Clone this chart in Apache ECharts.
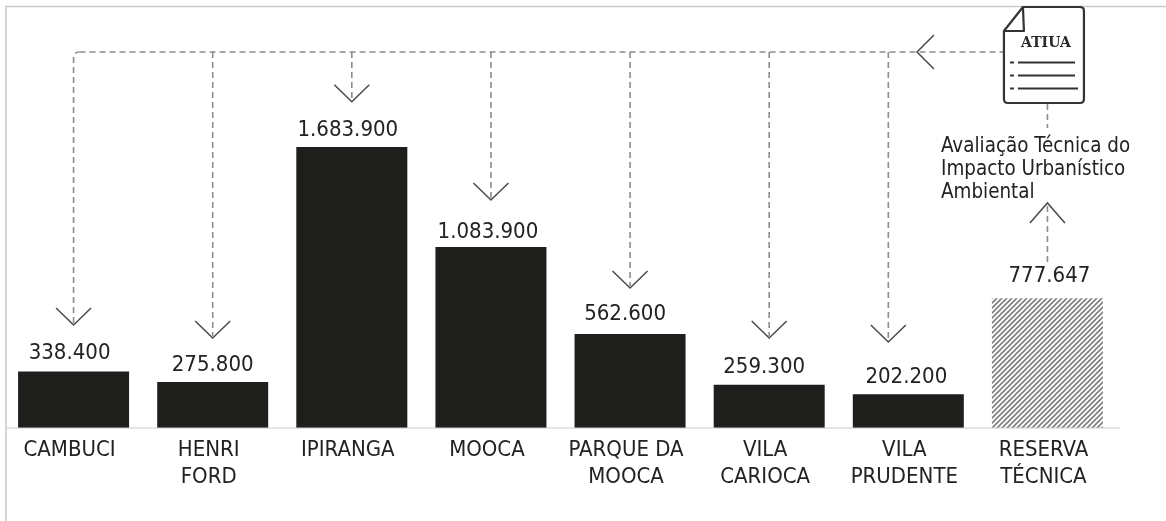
<!DOCTYPE html>
<html>
<head>
<meta charset="utf-8">
<style>html,body{margin:0;padding:0;background:#fff}#c{width:1166px;height:521px}</style>
<script src="https://cdn.jsdelivr.net/npm/echarts@6/dist/echarts.min.js"></script>
</head>
<body>
<div id="c"></div>
<script>
const categories = ['CAMBUCI','HENRI\nFORD','IPIRANGA','MOOCA','PARQUE DA\nMOOCA','VILA\nCARIOCA','VILA\nPRUDENTE','RESERVA\nTÉCNICA'];
const values = [338400,275800,1683900,1083900,562600,259300,202200,777647];
// Where each arrow's tip sits, read on the same value scale as the bars
const arrowTips = [617000,539300,1955400,1366300,839000,539300,515400,1348300];
const railLevel = 2253200;
const noteLines = 'Avaliação Técnica do\nImpacto Urbanístico\nAmbiental';
const docLabel = 'ATIUA';

const INK = '#1e1e1c', DASH = '#8c8c8c', ARROW = '#4a4a4a', RULE = '#c9c9c9', TEXT = '#222';
const FONT = '"DejaVu Sans Condensed", "DejaVu Sans", sans-serif';
const labelNudge = [[-4,-1],[0,0],[-4,0],[-3,2],[-5,-3],[-5,0],[-2,0],[2,-5]];
const dropNudge = [0,0,0,0,0,0,-20,0];

function hatch() {
  const s = 5, c = document.createElement('canvas');
  c.width = c.height = s;
  const g = c.getContext('2d');
  g.fillStyle = '#fff'; g.fillRect(0,0,s,s);
  g.strokeStyle = '#808080'; g.lineWidth = 1.7;
  [[-s,s,s,-s],[0,s,s,0],[0,2*s,2*s,0]].forEach(function (l) {
    g.beginPath(); g.moveTo(l[0],l[1]); g.lineTo(l[2],l[3]); g.stroke();
  });
  return c;
}
const dashed = { stroke: DASH, lineWidth: 1.6, lineDash: [6,4], fill: null };
const solid = { stroke: ARROW, lineWidth: 1.5, fill: null };

function renderConnector(params, api) {
  const i = api.value(0);
  const up = i === values.length - 1;
  const tip = api.coord([i, api.value(1)]);
  const x = tip[0] + dropNudge[i];
  const y = tip[1];
  const rail = api.coord([i, railLevel])[1];
  const kids = [];
  if (up) {
    const base = y + 59;
    kids.push({type:'line', shape:{x1:x,y1:base,x2:x,y2:y+2}, style:dashed});
    kids.push({type:'polyline', shape:{points:[[x-17.5,y+20],[x,y],[x+17.5,y+20]]}, style:solid});
    kids.push({type:'line', shape:{x1:x,y1:104,x2:x,y2:128}, style:dashed});
  } else {
    if (i === 0) {
      kids.push({type:'path', shape:{pathData:'M'+x+' '+(y-2)+'L'+x+' '+(rail+6)+'Q'+x+' '+rail+' '+(x+6)+' '+rail}, style:dashed});
    } else {
      kids.push({type:'line', shape:{x1:x,y1:rail,x2:x,y2:y-2}, style:dashed});
    }
    kids.push({type:'polyline', shape:{points:[[x-17.5,y-17],[x,y],[x+17.5,y-17]]}, style:solid});
  }
  return {type:'group', children:kids};
}

function renderFrame(params, api) {
  const a = api.coord([0, railLevel]);
  const b = api.coord([values.length - 1, railLevel]);
  const zero = api.coord([0, 0])[1];
  const cx = b[0] - 3.5, y = a[1];
  const left = cx - 40, right = cx + 40, top = 7, bottom = 103;
  const docPath = 'M'+(left+19)+' '+top+'L'+(right-4)+' '+top+'Q'+right+' '+top+' '+right+' '+(top+4)+
    'L'+right+' '+(bottom-4)+'Q'+right+' '+bottom+' '+(right-4)+' '+bottom+
    'L'+(left+4)+' '+bottom+'Q'+left+' '+bottom+' '+left+' '+(bottom-4)+'L'+left+' '+(top+24)+'Z'+
    'M'+(left+19)+' '+top+'L'+(left+20)+' '+(top+24)+'L'+left+' '+(top+24);
  const kids = [
    {type:'line', shape:{x1:7,y1:zero,x2:1120,y2:zero}, style:{stroke:RULE,lineWidth:1.2}, z2:-1},
    {type:'line', shape:{x1:a[0]+6,y1:y,x2:left,y2:y}, style:dashed},
    {type:'polyline', shape:{points:[[934,y-17],[917,y],[934,y+17]]}, style:solid},
    {type:'path', shape:{pathData:docPath}, style:{stroke:'#333',lineWidth:2.2,fill:'#fff',lineJoin:'round'}},
    {type:'text', style:{text:docLabel,x:cx+2,y:43,align:'center',verticalAlign:'middle',fill:'#2a2a2a',font:'bold 14px "DejaVu Serif", serif'}},
    {type:'text', style:{text:noteLines,x:941,y:135.5,fill:TEXT,font:'20.4px '+FONT,lineHeight:23}}
  ];
  [[62.5,1075],[75.5,1075],[88.5,1078]].forEach(function (r) {
    kids.push({type:'line', shape:{x1:left+6,y1:r[0],x2:left+10,y2:r[0]}, style:{stroke:'#333',lineWidth:2}});
    kids.push({type:'line', shape:{x1:left+14,y1:r[0],x2:r[1],y2:r[0]}, style:{stroke:'#333',lineWidth:2}});
  });
  return {type:'group', children:kids};
}

const chart = echarts.init(document.getElementById('c'), null, {renderer:'canvas'});
chart.setOption({
  animation:false,
  backgroundColor:'#fff',
  graphic:[
    {type:'line', silent:true, shape:{x1:6,y1:6.5,x2:1166,y2:6.5}, style:{stroke:RULE,lineWidth:1.5}},
    {type:'line', silent:true, shape:{x1:6,y1:6,x2:6,y2:521}, style:{stroke:RULE,lineWidth:1.5}}
  ],
  grid:{left:4,width:1113,top:147,height:281},
  xAxis:{type:'category',data:categories,
    axisLine:{show:false},axisTick:{show:false},
    axisLabel:{interval:0,color:TEXT,fontFamily:FONT,fontSize:22,lineHeight:27,margin:9,padding:[0,8,0,0]}},
  yAxis:{type:'value',min:0,max:1683900,show:false,splitLine:{show:false}},
  series:[
    {type:'bar',barWidth:111,z:2,
      data:values.map(function (v,i) {
        return {value:v,
          itemStyle:{color:i===values.length-1?{image:hatch(),repeat:'repeat'}:INK},
          label:{offset:labelNudge[i]}};
      }),
      label:{show:true,position:'top',distance:6,color:TEXT,fontFamily:FONT,fontSize:22,
        formatter:function (p) { return String(p.value).replace(/\B(?=(\d{3})+$)/g,'.'); }}},
    {type:'custom',z:3,silent:true,clip:false,renderItem:renderFrame,data:[[0]],encode:{x:0}},
    {type:'custom',z:4,silent:true,clip:false,renderItem:renderConnector,
      data:arrowTips.map(function (t,i) { return [i,t]; }),encode:{x:0,y:1}}
  ]
});
</script>
</body>
</html>
